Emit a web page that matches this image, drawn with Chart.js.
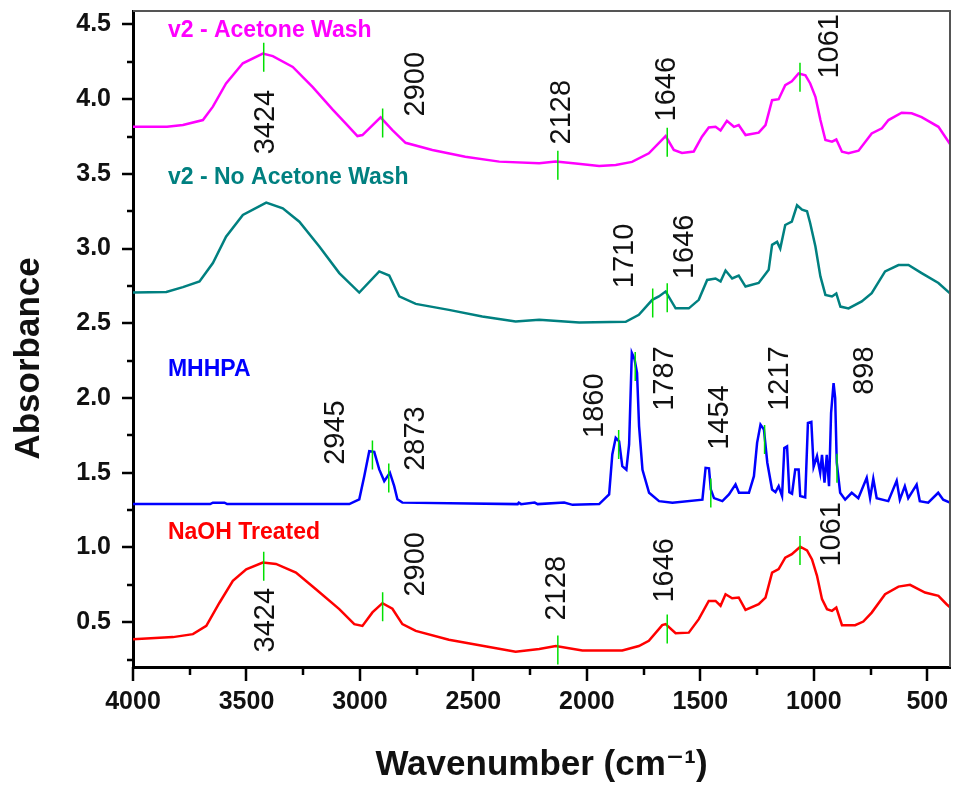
<!DOCTYPE html>
<html>
<head>
<meta charset="utf-8">
<script src="https://cdn.jsdelivr.net/npm/chart.js@4.4.1/dist/chart.umd.min.js"></script>
<style>
html,body{margin:0;padding:0;background:#fff;}
canvas{display:block;}
</style>
</head>
<body>
<canvas id="c" width="953" height="786"></canvas>
<script>
// ---- Data (wavenumber, absorbance) ----
const acetoneWn  = [4000,3850,3780,3692,3648,3590,3516,3428,3384,3296,3208,3120,3063,3011,2989,2909,2857,2799,2681,2536,2386,2210,2137,2049,1946,1873,1801,1727,1653,1617,1581,1529,1493,1463,1433,1411,1383,1352,1331,1301,1243,1213,1184,1155,1126,1097,1067,1037,1016,993,971,949,920,901,876,847,803,745,700,671,613,569,525,451,400];
const acetoneAbs = [3.815,3.815,3.827,3.86,3.95,4.105,4.24,4.305,4.288,4.216,4.08,3.93,3.838,3.753,3.76,3.878,3.793,3.708,3.66,3.615,3.582,3.571,3.582,3.57,3.553,3.56,3.58,3.638,3.753,3.66,3.64,3.65,3.749,3.81,3.815,3.79,3.855,3.815,3.827,3.76,3.776,3.827,3.993,4.0,4.094,4.12,4.172,4.16,4.105,4.016,3.86,3.727,3.716,3.73,3.648,3.638,3.655,3.771,3.805,3.86,3.909,3.905,3.88,3.815,3.70];

const noAcetoneWn  = [4000,3853,3780,3707,3648,3590,3516,3413,3340,3267,3179,3091,3003,2915,2871,2827,2754,2608,2461,2314,2210,2034,1829,1771,1712,1683,1653,1609,1551,1507,1470,1433,1411,1389,1360,1331,1301,1243,1199,1184,1162,1148,1126,1097,1074,1052,1030,1016,993,971,949,920,901,883,847,789,745,686,627,583,525,451,400];
const noAcetoneAbs = [2.706,2.71,2.742,2.78,2.903,3.08,3.225,3.308,3.27,3.18,3.014,2.836,2.706,2.847,2.82,2.68,2.63,2.59,2.546,2.512,2.524,2.506,2.51,2.557,2.657,2.68,2.713,2.6,2.6,2.657,2.79,2.8,2.78,2.853,2.8,2.82,2.746,2.77,2.858,3.025,3.045,3.0,3.158,3.18,3.29,3.26,3.25,3.17,3.014,2.814,2.69,2.68,2.70,2.612,2.60,2.647,2.702,2.847,2.89,2.89,2.836,2.77,2.70];

const mhhpaWn  = [4000,3660,3648,3597,3585,3047,3003,2981,2959,2937,2915,2893,2868,2849,2835,2813,2305,2300,2290,2230,2217,2100,2063,1946,1902,1888,1873,1858,1844,1826,1814,1802,1790,1779,1770,1755,1726,1682,1623,1491,1477,1462,1454,1440,1403,1374,1345,1330,1286,1264,1250,1235,1220,1205,1184,1169,1155,1140,1130,1118,1108,1096,1082,1067,1060,1038,1026,1011,1001,986,972,964,953,943,933,924,913,906,899,884,862,833,804,767,752,738,723,672,635,621,599,584,547,533,496,452,430,400];
const mhhpaAbs = [1.29,1.29,1.30,1.30,1.29,1.29,1.322,1.477,1.644,1.64,1.522,1.444,1.5,1.41,1.322,1.30,1.29,1.30,1.29,1.30,1.29,1.30,1.285,1.29,1.355,1.622,1.734,1.71,1.544,1.52,1.689,2.302,2.26,2.168,1.81,1.52,1.366,1.31,1.299,1.32,1.533,1.53,1.388,1.33,1.31,1.355,1.422,1.366,1.366,1.477,1.70,1.822,1.79,1.567,1.388,1.37,1.41,1.344,1.666,1.677,1.37,1.36,1.522,1.522,1.344,1.335,1.833,1.84,1.54,1.611,1.50,1.62,1.433,1.62,1.41,1.90,2.10,2.00,1.567,1.366,1.32,1.366,1.33,1.466,1.33,1.46,1.33,1.31,1.447,1.32,1.41,1.33,1.42,1.31,1.30,1.366,1.32,1.30];

const naohWn  = [4000,3824,3736,3677,3619,3560,3501,3428,3370,3282,3194,3091,3025,2989,2945,2901,2857,2813,2754,2608,2461,2314,2210,2137,2020,1844,1771,1727,1668,1653,1609,1551,1507,1463,1433,1411,1389,1360,1331,1301,1243,1213,1184,1155,1126,1097,1060,1030,1008,986,964,942,920,901,876,818,782,745,686,627,576,510,451,415,400];
const naohAbs = [0.386,0.40,0.42,0.475,0.63,0.776,0.854,0.899,0.89,0.832,0.72,0.587,0.487,0.475,0.565,0.627,0.59,0.487,0.442,0.382,0.342,0.302,0.32,0.34,0.31,0.31,0.34,0.375,0.48,0.487,0.426,0.43,0.52,0.642,0.642,0.61,0.687,0.66,0.665,0.582,0.62,0.665,0.832,0.855,0.932,0.955,1.005,0.98,0.92,0.81,0.654,0.587,0.576,0.598,0.48,0.48,0.504,0.564,0.687,0.738,0.75,0.698,0.676,0.62,0.60];

const seriesNames = ['v2 - Acetone Wash','v2 - No Acetone Wash','MHHPA','NaOH Treated'];

// Peak markers (wavenumbers) per series
const acetonePeaks   = [3424,2900,2128,1646,1061];
const noAcetonePeaks = [1710,1646];
const mhhpaPeaks     = [2945,2873,1860,1787,1454,1217,898];
const naohPeaks      = [3424,2900,2128,1646,1061];

// Peak label anchors [label, wavenumber, absorbance]
const peakLabels = [
  ['3424',3420,3.847],['2900',2756,4.100],['2128',2113,3.913],['1646',1652,4.067],['1061',935,4.354],
  ['1710',1836,2.951],['1646',1573,3.012],
  ['2945',3112,1.769],['2873',2756,1.729],['1860',1968,1.949],['1787',1660,2.13],['1454',1419,1.869],['1217',1155,2.13],['898',781,2.183],
  ['3424',3420,0.513],['2900',2756,0.887],['2128',2135,0.727],['1646',1660,0.847],['1061',926,1.088]
];
// Series name anchors [wavenumber, absorbance]
const nameAnchors = [[3846,4.46],[3846,3.473],[3846,2.19],[3846,1.101]];

const xMajor = [500,1000,1500,2000,2500,3000,3500,4000];
const xMinor = [750,1250,1750,2250,2750,3250,3750];
const yMajor = [0.5,1.0,1.5,2.0,2.5,3.0,3.5,4.0,4.5];
const yMinor = [0.25,0.75,1.25,1.75,2.25,2.75,3.25,3.75,4.25];

const colors = ['#FF00FF','#008080','#0000FF','#FF0000'];
const FONT = '"Liberation Sans", Arial, "DejaVu Sans", sans-serif';

function pts(wn, ab){ return wn.map((w,i)=>({x:w,y:ab[i]})); }
function interp(wn, ab, w){
  for(let i=0;i<wn.length-1;i++){
    const a=wn[i], b=wn[i+1];
    if((w<=a && w>=b)||(w>=a && w<=b)){
      const t=(w-a)/(b-a||1); return ab[i]+t*(ab[i+1]-ab[i]);
    }
  }
  return ab[ab.length-1];
}

const seriesWn  = [acetoneWn, noAcetoneWn, mhhpaWn, naohWn];
const seriesAbs = [acetoneAbs, noAcetoneAbs, mhhpaAbs, naohAbs];
const seriesPeaks = [acetonePeaks, noAcetonePeaks, mhhpaPeaks, naohPeaks];

const decor = {
  id:'decor',
  afterDraw(chart){
    const ctx = chart.ctx, xs = chart.scales.x, ys = chart.scales.y, ca = chart.chartArea;
    ctx.save();
    // frame top/right
    ctx.strokeStyle = '#555'; ctx.lineWidth = 2;
    ctx.beginPath();
    ctx.moveTo(ca.left, ca.top); ctx.lineTo(ca.right, ca.top); ctx.lineTo(ca.right, ca.bottom);
    ctx.stroke();
    // ticks
    ctx.strokeStyle = '#000'; ctx.lineWidth = 2.5;
    ctx.beginPath();
    yMajor.forEach(v=>{const p=Math.round(ys.getPixelForValue(v)); ctx.moveTo(ca.left, p); ctx.lineTo(ca.left-11, p);});
    yMinor.forEach(v=>{const p=Math.round(ys.getPixelForValue(v)); ctx.moveTo(ca.left, p); ctx.lineTo(ca.left-6, p);});
    xMajor.forEach(v=>{const p=Math.round(xs.getPixelForValue(v)); ctx.moveTo(p, ca.bottom); ctx.lineTo(p, ca.bottom+14);});
    xMinor.forEach(v=>{const p=Math.round(xs.getPixelForValue(v)); ctx.moveTo(p, ca.bottom); ctx.lineTo(p, ca.bottom+8);});
    ctx.stroke();
    // peak markers
    ctx.strokeStyle = '#00E000'; ctx.lineWidth = 1.5;
    ctx.beginPath();
    seriesPeaks.forEach((pk, si)=>{
      pk.forEach(w=>{
        const px = xs.getPixelForValue(w);
        const py = ys.getPixelForValue(interp(seriesWn[si], seriesAbs[si], w));
        ctx.moveTo(px, py-11); ctx.lineTo(px, py+18);
      });
    });
    ctx.stroke();
    // peak labels (rotated)
    ctx.fillStyle = '#111';
    ctx.font = '29px ' + FONT;
    ctx.textAlign = 'center'; ctx.textBaseline = 'middle';
    peakLabels.forEach(([t,w,a])=>{
      ctx.save();
      ctx.translate(xs.getPixelForValue(w), ys.getPixelForValue(a));
      ctx.rotate(-Math.PI/2);
      ctx.fillText(t, 0, 1);
      ctx.restore();
    });
    // series names
    ctx.font = 'bold 23px ' + FONT;
    ctx.textAlign = 'left';
    nameAnchors.forEach(([w,a],i)=>{
      ctx.fillStyle = colors[i];
      ctx.fillText(seriesNames[i], xs.getPixelForValue(w), ys.getPixelForValue(a));
    });
    ctx.restore();
  }
};

new Chart(document.getElementById('c'), {
  type:'line',
  data:{
    datasets: seriesNames.map((n,i)=>({
      label:n, data:pts(seriesWn[i], seriesAbs[i]),
      borderColor:colors[i], backgroundColor:colors[i],
      borderWidth:2.5, pointRadius:0, tension:0, fill:false
    }))
  },
  options:{
    responsive:false, animation:false, devicePixelRatio:1,
    layout:{padding:{left:0, top:11, right:3, bottom:0}},
    plugins:{legend:{display:false}, tooltip:{enabled:false}},
    scales:{
      x:{
        type:'linear', min:400, max:4000, reverse:true,
        afterBuildTicks(s){ s.ticks = xMajor.map(v=>({value:v})); },
        afterFit(s){ s.height = 119; s.paddingLeft = 0; s.paddingRight = 0; s.paddingTop = 0; s.paddingBottom = 0; },
        grid:{display:false, drawTicks:false},
        border:{display:true, color:'#000', width:3},
        ticks:{autoSkip:false, maxRotation:0, padding:20, color:'#111',
          font:{family:FONT, size:25, weight:'bold'}, callback:v=>String(v)},
        title:{display:true, text:'Wavenumber (cm\u207B\u00B9)', color:'#111',
          font:{family:FONT, size:35, weight:'bold'}, padding:{top:0,bottom:0}}
      },
      y:{
        type:'linear', min:0.2, max:4.59,
        afterBuildTicks(s){ s.ticks = yMajor.map(v=>({value:v})); },
        afterFit(s){ s.width = 133; s.paddingTop = 0; s.paddingBottom = 0; s.paddingLeft = 0; s.paddingRight = 0; },
        grid:{display:false, drawTicks:false},
        border:{display:true, color:'#000', width:3},
        ticks:{autoSkip:false, padding:22, color:'#111',
          font:{family:FONT, size:25, weight:'bold'}, callback:v=>Number(v).toFixed(1)},
        title:{display:true, text:'Absorbance\u00A0\u00A0\u00A0\u00A0', color:'#111',
          font:{family:FONT, size:35, weight:'bold'}, padding:{top:8,bottom:0}}
      }
    }
  },
  plugins:[decor]
});
</script>
</body>
</html>
